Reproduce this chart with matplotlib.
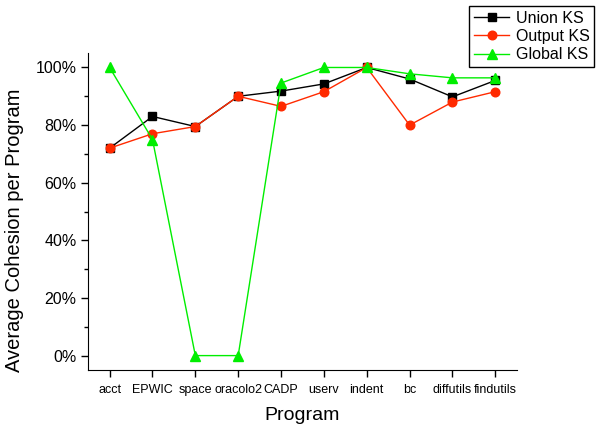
import numpy as np
import matplotlib
matplotlib.use("Agg")
import matplotlib.pyplot as plt
from matplotlib.ticker import MultipleLocator, FuncFormatter

plt.rcParams['font.family'] = ['Liberation Sans', 'DejaVu Sans']

programs = ['acct', 'EPWIC', 'space', 'oracolo2', 'CADP', 'userv', 'indent', 'bc', 'diffutils', 'findutils']
union_ks  = [72, 83, 79.5, 90, 91.8, 94.3, 100, 96, 89.8, 95.5]
output_ks = [72, 77, 79.5, 90, 86.5, 91.6, 100, 80, 88, 91.6]
global_ks = [100, 75, 0, 0, 94.6, 100, 100, 97.8, 96.4, 96.4]

fig = plt.figure(figsize=(5.96, 4.28), dpi=100)
ax = fig.add_axes([0.148, 0.1355, 0.719, 0.7405])

x = np.arange(len(programs))
ax.plot(x, union_ks, color='black', marker='s', ms=5.5, lw=1, label='Union KS')
ax.plot(x, output_ks, color='#ff2a00', marker='o', ms=6.2, lw=1, label='Output KS')
ax.plot(x, global_ks, color='#00ee00', marker='^', ms=7, lw=1, label='Global KS')

ax.set_xlim(-0.5, 9.5)
ax.set_ylim(-5, 105)
ax.set_xticks(x)
ax.set_xticklabels(programs, fontsize=9)
ax.yaxis.set_major_locator(MultipleLocator(20))
ax.yaxis.set_minor_locator(MultipleLocator(10))
ax.yaxis.set_major_formatter(FuncFormatter(lambda v, p: '%d%%' % v))
ax.tick_params(axis='y', labelsize=11.5)
ax.tick_params(axis='x', pad=5)
ax.tick_params(which='major', direction='out', length=5, width=1)
ax.tick_params(which='minor', direction='out', length=3, width=1)
ax.spines['top'].set_visible(False)
ax.spines['right'].set_visible(False)

ax.set_xlabel('Program', fontsize=14)
ax.xaxis.set_label_coords(0.5, -0.118)
ax.set_ylabel('Average Cohesion per Program', fontsize=14.5)
ax.yaxis.set_label_coords(-0.15, 0.44)

leg = fig.legend(loc='upper right', bbox_to_anchor=(0.997, 0.986), fontsize=11.5,
                 frameon=True, fancybox=False, borderpad=0.3, handlelength=2.2,
                 labelspacing=0.2, handletextpad=0.4, borderaxespad=0)
leg.get_frame().set_edgecolor('black')
leg.get_frame().set_linewidth(1)
leg.get_frame().set_alpha(1)

fig.savefig('out.png', dpi=100)
